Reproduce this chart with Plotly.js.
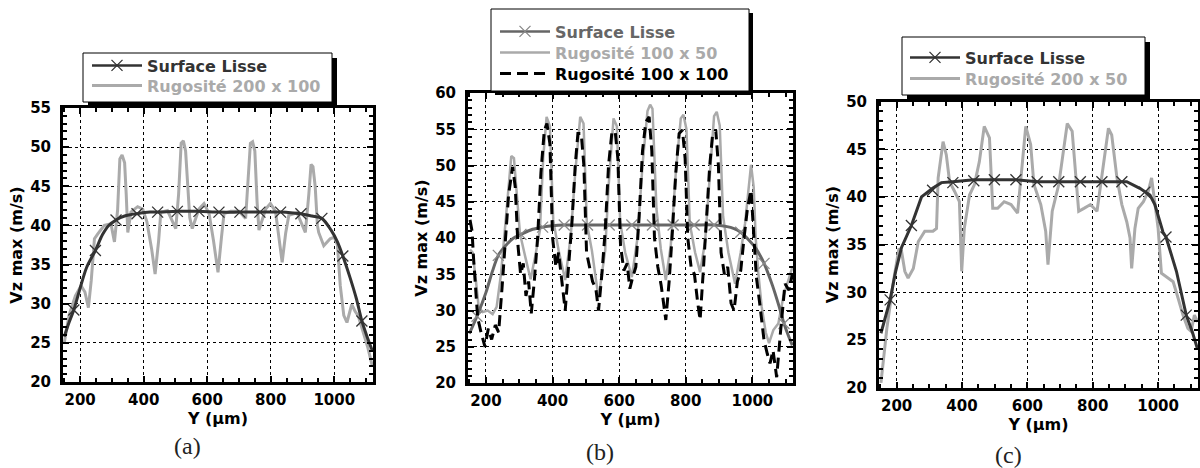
<!DOCTYPE html>
<html>
<head>
<meta charset="utf-8">
<script src="https://cdn.plot.ly/plotly-3.0.1.min.js"></script>
<style>html,body{margin:0;padding:0;background:#fff;}#chart{width:1200px;height:468px;}</style>
</head>
<body>
<div id="chart"></div>
<script>
// ---------- DATA ----------
var panelLabels = ['(a)', '(b)', '(c)'];
var xTitle = 'Y (µm)';
var yTitle = 'Vz max (m/s)';
var nameLisse = 'Surface Lisse';
var nameA = 'Rugosité 200 x 100';
var nameB1 = 'Rugosité 100 x 50';
var nameB2 = 'Rugosité 100 x 100';
var nameC = 'Rugosité 200 x 50';

// Panel (a)
var lisseA_x = [150,165,180,200,220,248,270,290,313,340,379,420,444,506,574,637,703,766,831,870,895,930,961,990,1010,1027,1050,1070,1087,1105,1120];
var lisseA_y = [25.8,27.6,29.2,32.0,34.6,36.8,38.8,40.0,40.7,41.2,41.5,41.7,41.7,41.8,41.8,41.7,41.7,41.7,41.7,41.6,41.5,41.2,40.9,39.4,37.9,36.1,33.3,30.6,27.8,25.6,24.0];
var lisseA_mx = [180,248,313,379,444,506,574,637,703,766,831,895,961,1027,1087];
var lisseA_my = [29.2,36.8,40.7,41.5,41.7,41.8,41.8,41.7,41.7,41.7,41.7,41.5,40.9,36.1,27.8];
var rugA_x = [150,165,185,203,215,226,235,245,255,276,297,308,318,325,332,340,345,350,360,381,397,410,425,436,447,454,475,501,510,518,525,532,538,545,553,574,590,606,620,634,645,653,674,700,721,730,736,743,750,757,763,784,799,815,826,836,847,857,883,909,920,927,933,940,947,951,967,987,1000,1010,1019,1030,1040,1055,1066,1076,1090,1105,1120];
var rugA_y = [25.0,28.5,31.0,32.3,31.5,29.5,33,38.3,38.9,40.0,40.2,37.9,42,48.5,49.0,48,44,39.1,41.7,42.4,42.1,40.5,37,33.8,38,41.7,41.9,39.6,44,50.5,50.8,49.5,45.6,41,39.6,42.1,42.8,41.5,38,34,38.5,41.5,41.8,41.8,40.9,46,50.5,50.7,49.5,43,39.4,42.1,42.8,41.8,38,35.3,39,41.3,41.6,39.1,44,47.8,47.5,45,40,39.1,37.4,38.3,38.5,37.5,32.3,28.5,27.6,29.9,29.0,28.4,26.5,24.5,22.0];

// Panel (b)
var lisseB_x = [150,173,200,220,237,260,280,305,340,370,400,435,505,570,638,700,762,825,885,920,945,965,990,1010,1035,1060,1080,1095,1110,1120];
var lisseB_y = [26.8,29.2,32.5,35.5,37.6,39.0,39.9,40.5,41.2,41.5,41.7,41.8,41.8,41.8,41.8,41.8,41.8,41.8,41.8,41.6,41.3,40.8,39.7,38.6,36.5,33.5,30.6,28.2,26.3,25.2];
var lisseB_mx = [173,237,305,370,435,505,570,638,700,762,825,885,965,1035,1095];
var lisseB_my = [29.2,37.6,40.5,41.5,41.8,41.8,41.8,41.8,41.8,41.8,41.8,41.8,40.8,36.5,28.2];
var rugB1_x = [152,160,170,178,190,205,220,232,245,258,268,276,284,292,302,318,334,348,362,372,382,392,402,418,438,455,468,483,493,503,518,538,558,568,583,593,603,618,638,655,670,685,693,700,712,725,740,755,770,785,793,802,812,828,843,858,872,885,893,902,912,928,948,965,978,990,996,1004,1010,1018,1028,1040,1050,1063,1078,1093,1108,1120];
var rugB1_y = [38.4,38.0,34,30.5,29.8,30.0,29.5,30.5,35,42,48,51.3,51.0,46,40.6,37.4,34.3,37.5,41.1,51.2,56.7,55.4,42.5,38.3,34.2,40.5,49,56.7,55.8,42,38.3,31.7,38.3,47,56.5,55.4,42.2,38.0,34.6,40,50,57.5,58.4,57.8,44,38.5,34.2,39,49,56.5,57.0,55,42,38,35.3,39.5,49,56.8,57.4,55.5,43,38,33.7,38,42,48,50.1,47,40,35.1,30.5,27,25.5,27.3,28.2,31.9,34.2,36];
var rugB2_x = [152,158,163,168,175,185,197,207,217,228,238,248,258,268,280,288,296,304,312,320,328,336,345,355,365,375,383,392,400,410,418,428,438,447,458,468,476,486,494,502,512,520,530,538,548,558,568,578,588,596,604,614,624,632,640,650,660,670,680,690,698,706,716,726,740,750,760,770,780,790,798,806,816,826,836,843,852,862,872,880,890,898,906,916,926,936,945,955,965,975,985,996,1004,1012,1022,1035,1045,1053,1062,1073,1085,1098,1110,1120];
var rugB2_y = [42.5,41,37,33,29,27,25,27.5,26,28,27,33,39.7,46,49.8,47,39,35,36.5,32,34,29.6,34,40,49,54.8,55.8,53,40,36,38,34,30,35.5,42,50,54.4,54.4,50,38,36,34,33,30,35,41,50,54.5,54.7,51,39,35.5,36.5,33,34.5,36,43,52,56,56.7,52,40,36,33.5,28.7,34,41,49,54.4,54.9,51,40,36,35,31,28.7,35,42,50,54,54.9,50,38,35,36,31,30,34,35.5,40,44,46.6,41,34.6,31,25.9,24,22.7,24.5,20.8,27.3,33.7,32.8,35];

// Panel (c)
var lisseC_x = [152,180,197,215,245,276,310,337,372,436,499,565,630,696,762,828,889,904,944,960,975,990,1015,1024,1056,1086,1105,1121];
var lisseC_y = [25.7,29.2,32.2,34.7,37.0,40.0,40.9,41.5,41.6,41.8,41.8,41.8,41.6,41.6,41.6,41.6,41.6,41.6,40.9,40.5,40.2,39.2,36.3,35.8,32.2,27.6,25.8,24.0];
var lisseC_mx = [180,245,310,372,436,499,565,630,696,762,828,889,959,1024,1086];
var lisseC_my = [29.2,37.0,40.7,41.5,41.7,41.8,41.8,41.6,41.6,41.6,41.6,41.6,40.5,35.8,27.6];
var rugC_x = [152,160,170,190,207,215,225,235,251,266,286,311,322,327,342,352,362,377,392,399,407,423,438,453,468,484,494,509,529,550,570,585,595,610,620,641,656,663,676,696,706,722,737,747,757,773,793,813,828,848,858,874,889,904,914,919,929,939,955,970,980,990,1000,1010,1025,1046,1061,1076,1091,1101,1111,1121];
var rugC_y = [20.5,23,26.2,31.1,34.6,34.3,32.2,31.5,32.5,35.3,36.4,36.4,36.7,42,45.8,44.4,41.6,40.6,39.5,32.2,36.7,40.2,41.3,43.7,47.4,46.2,38.8,38.8,39.5,39.2,38.3,43.7,47.4,45.5,41.3,39.2,36.4,32.9,38.5,41.3,43.7,47.7,46.9,42.3,38.5,38.8,39.2,38.5,42,47.2,46.5,42,39.2,37.4,35.7,32.5,36.7,38.8,39.5,40.6,42,39.5,36.7,32,31.6,31.1,29.4,27.6,26.2,25.9,27.6,26.9];

// ---------- STYLE / LAYOUT ----------
var W = 1200, H = 468;
function P(px){ return px / W; }
function Q(py){ return 1 - py / H; }
var FONT = 'DejaVu Sans';
var DARK = '#333333', MID = '#666666', LIGHT = '#aaaaaa';

function lisseTraces(xs, ys, mx, my, ax, color, mcolor, leg, shape) {
  var xa = 'x' + ax, ya = 'y' + ax;
  var line = {color: color, width: 3, shape: shape};
  if (shape === 'spline') line.smoothing = 0.8;
  return [
    {x: xs, y: ys, xaxis: xa, yaxis: ya, mode: 'lines', line: line, showlegend: false, hoverinfo: 'skip'},
    {x: mx, y: my, xaxis: xa, yaxis: ya, mode: 'markers', showlegend: false,
     marker: {symbol: 'x-thin', size: 11, color: mcolor, line: {width: 1.3, color: mcolor}}},
    {x: [null], y: [null], xaxis: xa, yaxis: ya, mode: 'lines+markers', legend: leg,
     name: '<span style="color:' + color + '">' + nameLisse + '</span>',
     line: {color: color, width: 2.5}, marker: {symbol: 'x-thin', size: 11, color: mcolor, line: {width: 1.3, color: mcolor}}}
  ];
}

var data = [];
// (a)
data.push({x: rugA_x, y: rugA_y, xaxis: 'x', yaxis: 'y', mode: 'lines', legend: 'legend2',
  name: '<span style="color:' + LIGHT + '">' + nameA + '</span>', line: {color: LIGHT, width: 3}});
data = data.concat(lisseTraces(lisseA_x, lisseA_y, lisseA_mx, lisseA_my, '', DARK, DARK, 'legend', 'spline'));
// (b)
data.push({x: rugB1_x, y: rugB1_y, xaxis: 'x2', yaxis: 'y2', mode: 'lines', legend: 'legend4',
  name: '<span style="color:' + LIGHT + '">' + nameB1 + '</span>', line: {color: LIGHT, width: 2.5}});
data = data.concat(lisseTraces(lisseB_x, lisseB_y, lisseB_mx, lisseB_my, '2', MID, '#888888', 'legend3', 'spline'));
data.push({x: rugB2_x, y: rugB2_y, xaxis: 'x2', yaxis: 'y2', mode: 'lines', legend: 'legend5',
  name: '<span style="color:#000">' + nameB2 + '</span>', line: {color: '#000', width: 3, dash: '11px,6px'}});
// (c)
data.push({x: rugC_x, y: rugC_y, xaxis: 'x3', yaxis: 'y3', mode: 'lines', legend: 'legend7',
  name: '<span style="color:' + LIGHT + '">' + nameC + '</span>', line: {color: LIGHT, width: 3}});
data = data.concat(lisseTraces(lisseC_x, lisseC_y, lisseC_mx, lisseC_my, '3', DARK, DARK, 'legend6', 'linear'));

function xAxis(d0, d1, anchor) {
  return {domain: [P(d0), P(d1)], anchor: anchor, range: [146, 1122], tick0: 0, dtick: 200,
    showline: true, linewidth: 3, linecolor: '#000', mirror: 'ticks', ticks: 'inside', ticklen: 6, tickwidth: 2, tickcolor: '#000',
    minor: {ticks: 'inside', dtick: 50, tick0: 0, ticklen: 4, tickwidth: 2, tickcolor: '#000', showgrid: false},
    showgrid: true, gridcolor: '#000', griddash: 'dot', gridwidth: 1, zeroline: false,
    tickfont: {family: FONT, size: 15, color: '#000', weight: 'bold'}, ticklabelstandoff: 2,
    title: {text: xTitle, font: {family: FONT, size: 16, color: '#000', weight: 'bold'}, standoff: 0}};
}
function yAxis(top, bottom, anchor, r) {
  return {domain: [Q(bottom), Q(top)], anchor: anchor, range: r, tick0: 0, dtick: 5,
    showline: true, linewidth: 3, linecolor: '#000', mirror: 'ticks', ticks: 'inside', ticklen: 6, tickwidth: 2, tickcolor: '#000',
    minor: {ticks: 'inside', dtick: 1, tick0: 0, ticklen: 4, tickwidth: 2, tickcolor: '#000', showgrid: false},
    showgrid: true, gridcolor: '#000', griddash: 'dot', gridwidth: 1, zeroline: false,
    tickfont: {family: FONT, size: 15, color: '#000', weight: 'bold'}, ticklabelstandoff: 6,
    title: {text: yTitle, font: {family: FONT, size: 16, color: '#000', weight: 'bold'}, standoff: 4}};
}

// one legend per row so each row sits exactly where the reference puts it
function legendAt(lx, rowCenter) {
  return {x: P(lx), y: Q(rowCenter - 16.5), xanchor: 'left', yanchor: 'top', bgcolor: 'rgba(0,0,0,0)', borderwidth: 0,
    font: {family: FONT, size: 16, color: '#333', weight: 'bold'}, itemwidth: 50, tracegroupgap: 0};
}

function boxShapes(x0, y0, x1, y1, off) {
  return [
    {type: 'rect', xref: 'paper', yref: 'paper', x0: P(x0 + off), x1: P(x1 + off), y0: Q(y1 + off), y1: Q(y0 + off),
     fillcolor: '#000', line: {width: 0}, layer: 'above'},
    {type: 'rect', xref: 'paper', yref: 'paper', x0: P(x0), x1: P(x1), y0: Q(y1), y1: Q(y0),
     fillcolor: '#fff', line: {color: '#000', width: 1}, layer: 'above'}
  ];
}

var layout = {
  width: W, height: H, margin: {l: 0, r: 0, t: 0, b: 0},
  paper_bgcolor: '#fff', plot_bgcolor: '#fff', showlegend: true,
  xaxis: xAxis(63, 373, 'y'), yaxis: yAxis(108, 382, 'x', [20, 55]),
  xaxis2: xAxis(468, 793, 'y2'), yaxis2: yAxis(93, 383, 'x2', [20, 60]),
  xaxis3: xAxis(879, 1198, 'y3'), yaxis3: yAxis(101.6, 387.6, 'x3', [20, 50]),
  legend: legendAt(87, 65), legend2: legendAt(87, 85),
  legend3: legendAt(495, 31), legend4: legendAt(495, 52), legend5: legendAt(495, 73),
  legend6: legendAt(905, 57), legend7: legendAt(905, 78),
  shapes: [].concat(boxShapes(83, 53, 332, 102, 5), boxShapes(491, 9, 749, 91, 4), boxShapes(902, 37, 1145, 95, 5)),
  annotations: [
    {text: panelLabels[0], xref: 'paper', yref: 'paper', x: P(187), y: Q(446), showarrow: false, xanchor: 'center', yanchor: 'middle', font: {family: 'Liberation Serif', size: 24, color: '#222'}},
    {text: panelLabels[1], xref: 'paper', yref: 'paper', x: P(600), y: Q(452), showarrow: false, xanchor: 'center', yanchor: 'middle', font: {family: 'Liberation Serif', size: 24, color: '#222'}},
    {text: panelLabels[2], xref: 'paper', yref: 'paper', x: P(1008), y: Q(455), showarrow: false, xanchor: 'center', yanchor: 'middle', font: {family: 'Liberation Serif', size: 24, color: '#222'}}
  ]
};

Plotly.newPlot('chart', data, layout, {staticPlot: true, displayModeBar: false});
</script>
</body>
</html>
